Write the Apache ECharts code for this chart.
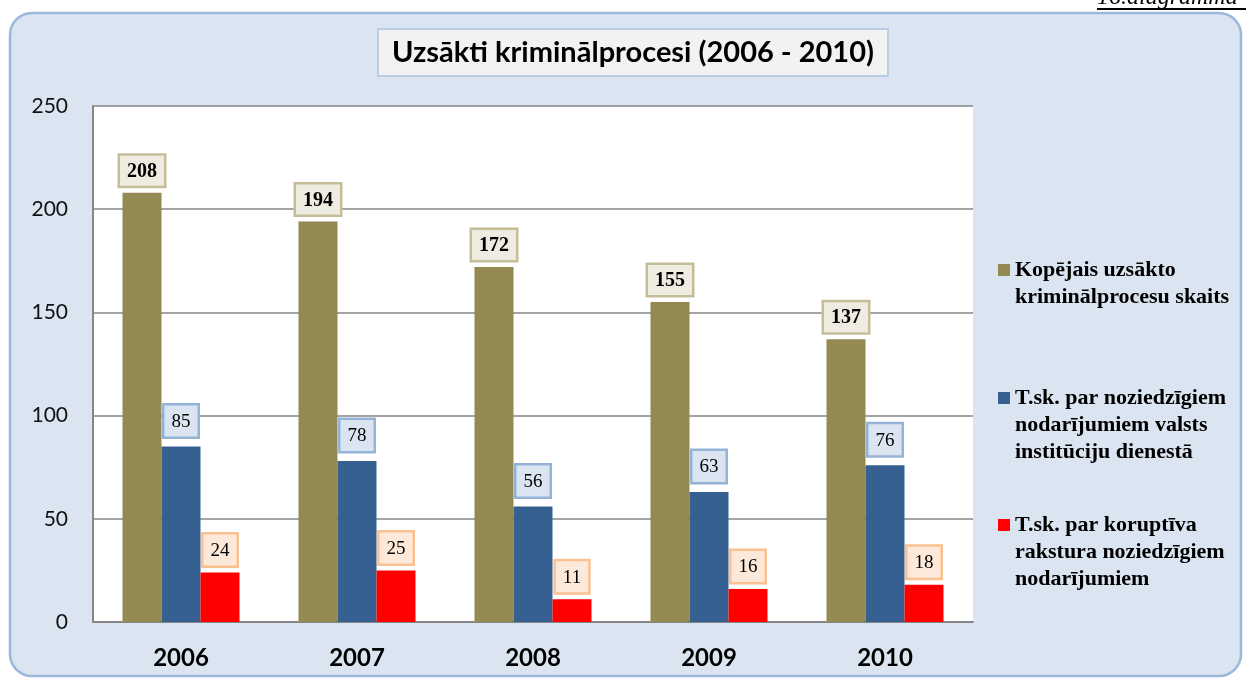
<!DOCTYPE html>
<html>
<head>
<meta charset="utf-8">
<script src="https://cdn.jsdelivr.net/npm/echarts@6/dist/echarts.min.js"></script>
<style>
  html, body { margin: 0; padding: 0; background: #fff; }
  #chart { width: 1246px; height: 678px; }
</style>
</head>
<body>
<div id="chart"></div>
<script>
const years = ['2006', '2007', '2008', '2009', '2010']
const totalCases = [208, 194, 172, 155, 137]
const publicServiceCases = [85, 78, 56, 63, 76]
const corruptionCases = [24, 25, 11, 16, 18]
const seriesNames = [
  'Kopējais uzsākto\nkriminālprocesu skaits',
  'T.sk. par noziedzīgiem\nnodarījumiem valsts\ninstitūciju dienestā',
  'T.sk. par koruptīva\nrakstura noziedzīgiem\nnodarījumiem'
]

const colors = ['#938953', '#376092', '#ff0000']
const labelBoxes = [
  { bg: '#eeece1', border: '#c4bd97', weight: 'bold', size: 20, pad: [6, 7, 4, 7] },
  { bg: '#dbe5f1', border: '#95b3d7', weight: 'normal', size: 19, pad: [7, 7, 5, 7] },
  { bg: '#fde9d9', border: '#fac090', weight: 'normal', size: 19, pad: [7, 7, 5, 7] }
]

const chart = echarts.init(document.getElementById('chart'))

const makeSeries = (name, data, i) => ({
  name,
  type: 'bar',
  data,
  barWidth: 39,
  barGap: '0%',
  itemStyle: { color: colors[i] },
  label: {
    show: true,
    position: 'top',
    distance: i === 1 ? 10 : 7,
    color: '#000',
    fontFamily: 'Liberation Serif',
    fontWeight: labelBoxes[i].weight,
    fontSize: labelBoxes[i].size,
    backgroundColor: labelBoxes[i].bg,
    borderColor: labelBoxes[i].border,
    borderWidth: 2.5,
    padding: labelBoxes[i].pad
  }
})

// pad with blank lines on top so the icon lines up with the first text line
const legendTop = [229.5, 330.5, 457.5]
const legends = seriesNames.map((name, i) => ({
  data: [name],
  orient: 'vertical',
  left: 998,
  top: legendTop[i],
  padding: 0,
  icon: 'rect',
  itemWidth: 12,
  itemHeight: 12,
  selectedMode: false,
  formatter: (n) => '\n'.repeat(n.split('\n').length - 1) + n,
  textStyle: {
    fontFamily: 'Liberation Serif',
    fontWeight: 'bold',
    fontSize: 22,
    lineHeight: 27,
    color: '#000'
  }
}))

const option = {
  animation: false,
  title: {
    text: 'Uzsākti kriminālprocesi (2006 - 2010)',
    left: 378,
    top: 29,
    padding: [9, 14, 9, 14],
    backgroundColor: '#f2f2f2',
    borderColor: '#b9cde5',
    borderWidth: 2,
    textStyle: {
      fontFamily: 'Lato',
      fontWeight: 'bold',
      fontSize: 29,
      color: '#000'
    }
  },
  graphic: [
    {
      type: 'rect',
      z: -10,
      shape: { x: 10, y: 13, width: 1231, height: 663, r: 22 },
      style: { fill: '#dbe5f1', stroke: '#9bb7dc', lineWidth: 2.5 }
    },
    {
      type: 'text',
      x: 1097,
      y: -2,
      style: {
        text: '16.diagramma',
        font: 'italic 24px "Liberation Serif"',
        fill: '#000',
        verticalAlign: 'middle'
      }
    },
    {
      type: 'line',
      shape: { x1: 1097, y1: 9, x2: 1246, y2: 9 },
      style: { stroke: '#000', lineWidth: 2 }
    }
  ],
  legend: legends,
  grid: {
    left: 93,
    right: 273,
    top: 106,
    bottom: 56,
    show: true,
    backgroundColor: '#fff',
    borderWidth: 0
  },
  xAxis: {
    type: 'category',
    data: years,
    axisLine: { lineStyle: { color: '#868686', width: 2 } },
    axisTick: { show: false },
    axisLabel: {
      margin: 24,
      fontFamily: 'Lato',
      fontWeight: 'bold',
      fontSize: 24,
      color: '#000'
    }
  },
  yAxis: {
    type: 'value',
    min: 0,
    max: 250,
    interval: 50,
    axisLine: { show: true, lineStyle: { color: '#868686', width: 2 } },
    axisTick: { show: false },
    splitLine: { lineStyle: { color: '#868686', width: 1.5 } },
    axisLabel: {
      margin: 25,
      fontFamily: 'Lato',
      fontSize: 21,
      color: '#111'
    }
  },
  series: [
    makeSeries(seriesNames[0], totalCases, 0),
    makeSeries(seriesNames[1], publicServiceCases, 1),
    makeSeries(seriesNames[2], corruptionCases, 2)
  ]
}

chart.setOption(option)
</script>
</body>
</html>
